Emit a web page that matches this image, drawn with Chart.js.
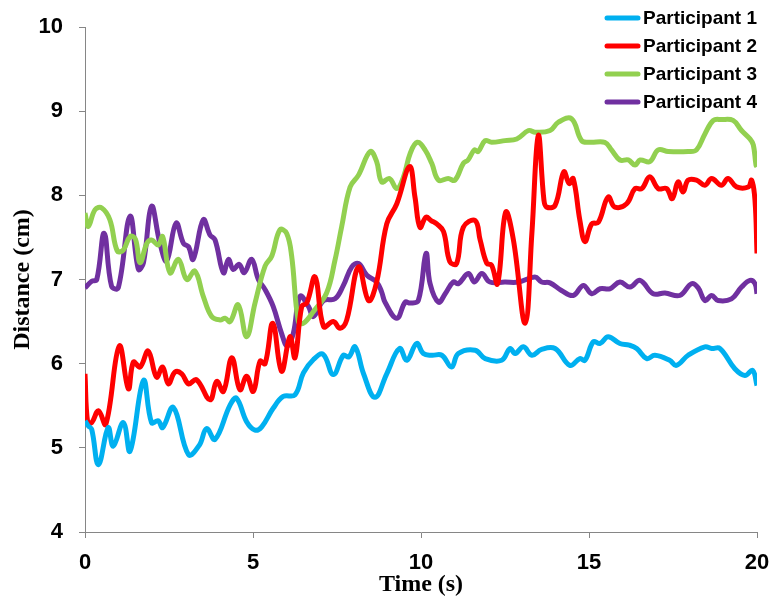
<!DOCTYPE html>
<html>
<head>
<meta charset="utf-8">
<title>Distance over time</title>
<script src="https://cdn.jsdelivr.net/npm/chart.js@4.4.1/dist/chart.umd.min.js"></script>
<style>
    body { margin: 0; background: #fff; }
    #wrap { width: 771px; height: 601px; }
</style>
</head>
<body>
<div id="wrap"><canvas id="distanceChart" width="771" height="601"></canvas></div>
<script>
// values (time in s, distance in cm)
const p1Time = [0, 0.1, 0.2, 0.4, 0.69, 0.84, 1.14, 1.34, 1.74, 1.98, 2.18, 2.31, 2.63, 3.08, 3.4, 3.62, 3.87, 4.32, 4.51, 4.81, 5.06, 5.26, 5.6, 5.9, 6.25, 6.5, 6.8, 7.09, 7.39, 7.69, 7.85, 8.04, 8.29, 8.63, 8.98, 9.36, 9.58, 9.87, 10.07, 10.32, 10.62, 10.91, 11.11, 11.61, 11.91, 12.4, 12.65, 12.8, 13.05, 13.3, 13.59, 13.99, 14.43, 14.73, 14.88, 15.13, 15.33, 15.57, 15.92, 16.2, 16.42, 16.72, 16.96, 17.4, 17.6, 17.95, 18.45, 18.65, 18.9, 19.34, 19.64, 19.87, 20];
const p1Dist = [5.32, 5.26, 5.22, 4.80, 5.24, 5.02, 5.30, 4.96, 5.80, 5.30, 5.32, 5.24, 5.48, 4.92, 5.03, 5.23, 5.10, 5.51, 5.59, 5.31, 5.21, 5.25, 5.47, 5.61, 5.63, 5.89, 6.05, 6.11, 5.87, 6.10, 6.08, 6.20, 5.88, 5.60, 5.88, 6.18, 6.04, 6.24, 6.12, 6.10, 6.10, 5.96, 6.12, 6.16, 6.06, 6.04, 6.18, 6.12, 6.20, 6.10, 6.17, 6.18, 5.98, 6.06, 6.04, 6.26, 6.24, 6.32, 6.24, 6.22, 6.18, 6.06, 6.10, 6.04, 5.98, 6.10, 6.20, 6.18, 6.18, 5.94, 5.86, 5.92, 5.74];

const p2Time = [0, 0.08, 0.2, 0.4, 0.62, 1.02, 1.29, 1.44, 1.64, 1.88, 2.13, 2.31, 2.48, 2.68, 2.88, 3.08, 3.32, 3.72, 3.92, 4.12, 4.37, 4.61, 4.81, 5.01, 5.21, 5.36, 5.59, 5.85, 6.1, 6.25, 6.45, 6.6, 6.85, 7.1, 7.39, 7.59, 7.79, 8.14, 8.44, 8.68, 8.98, 9.28, 9.66, 9.82, 9.97, 10.15, 10.3, 10.47, 10.67, 10.86, 11.06, 11.26, 11.61, 11.76, 11.96, 12.1, 12.28, 12.52, 12.75, 13.1, 13.3, 13.49, 13.66, 13.74, 13.99, 14.25, 14.41, 14.53, 14.73, 14.88, 15.08, 15.28, 15.57, 15.77, 16.12, 16.37, 16.57, 16.81, 17.06, 17.31, 17.48, 17.65, 17.8, 17.95, 18.2, 18.45, 18.65, 18.94, 19.14, 19.39, 19.74, 19.84, 19.94, 20];
const p2Dist = [5.88, 5.30, 5.30, 5.44, 5.28, 6.21, 5.70, 6.02, 5.96, 6.15, 5.84, 5.96, 5.76, 5.90, 5.88, 5.76, 5.81, 5.57, 5.79, 5.67, 6.07, 5.69, 5.85, 5.67, 6.03, 6.00, 6.48, 5.91, 6.32, 6.07, 6.68, 6.72, 7.03, 6.44, 6.50, 6.42, 6.52, 7.15, 6.75, 6.97, 7.66, 7.90, 8.34, 7.98, 7.62, 7.74, 7.70, 7.66, 7.57, 7.21, 7.19, 7.62, 7.70, 7.47, 7.19, 7.17, 6.95, 7.80, 7.47, 6.48, 7.55, 8.71, 7.94, 7.86, 7.88, 8.28, 8.14, 8.20, 7.70, 7.45, 7.66, 7.68, 7.98, 7.86, 7.90, 8.08, 8.08, 8.22, 8.08, 8.08, 7.96, 8.16, 8.04, 8.18, 8.18, 8.12, 8.20, 8.12, 8.20, 8.10, 8.10, 8.18, 7.94, 7.31];

const p3Time = [0, 0.1, 0.3, 0.5, 0.74, 0.96, 1.14, 1.34, 1.5, 1.64, 1.84, 1.98, 2.18, 2.31, 2.53, 2.78, 3.03, 3.27, 3.52, 3.77, 4.02, 4.17, 4.32, 4.56, 4.81, 5.06, 5.36, 5.56, 5.8, 6.0, 6.15, 6.35, 6.5, 6.8, 7.19, 7.44, 7.64, 7.89, 8.14, 8.49, 8.68, 8.83, 9.06, 9.28, 9.48, 9.68, 9.89, 10.12, 10.32, 10.52, 10.81, 11.01, 11.26, 11.4, 11.59, 11.7, 11.91, 12.1, 12.5, 12.85, 13.2, 13.4, 13.84, 14.09, 14.48, 14.78, 15.03, 15.47, 15.67, 15.92, 16.17, 16.37, 16.52, 16.81, 17.06, 17.36, 17.95, 18.2, 18.45, 18.7, 18.94, 19.29, 19.54, 19.79, 19.89, 19.97, 20];
const p3Dist = [7.79, 7.63, 7.83, 7.85, 7.71, 7.34, 7.35, 7.51, 7.48, 7.20, 7.43, 7.47, 7.41, 7.51, 7.08, 7.24, 7.00, 7.10, 6.80, 6.56, 6.52, 6.54, 6.50, 6.70, 6.32, 6.72, 7.16, 7.28, 7.59, 7.55, 7.28, 6.50, 6.48, 6.62, 6.84, 7.23, 7.63, 8.10, 8.24, 8.52, 8.40, 8.16, 8.20, 8.08, 8.22, 8.50, 8.63, 8.54, 8.38, 8.18, 8.20, 8.18, 8.38, 8.42, 8.54, 8.52, 8.65, 8.63, 8.65, 8.67, 8.77, 8.75, 8.77, 8.87, 8.91, 8.65, 8.63, 8.63, 8.54, 8.42, 8.42, 8.36, 8.42, 8.40, 8.54, 8.52, 8.52, 8.54, 8.73, 8.89, 8.90, 8.89, 8.77, 8.67, 8.60, 8.36, 8.34];

const p4Time = [0, 0.2, 0.35, 0.57, 0.79, 0.99, 1.34, 1.59, 1.74, 1.98, 2.23, 2.43, 2.71, 2.93, 3.08, 3.22, 3.52, 3.72, 3.87, 4.12, 4.27, 4.41, 4.59, 4.74, 4.96, 5.16, 5.36, 5.6, 5.85, 6.02, 6.2, 6.4, 6.65, 6.8, 7.1, 7.44, 7.69, 7.94, 8.14, 8.39, 8.68, 8.83, 8.93, 9.28, 9.53, 9.68, 9.92, 10.15, 10.27, 10.52, 10.72, 10.96, 11.11, 11.41, 11.59, 11.81, 12.05, 12.5, 12.9, 13.39, 13.59, 13.84, 14.18, 14.53, 14.83, 15.08, 15.33, 15.62, 15.92, 16.22, 16.52, 16.91, 17.26, 17.7, 18.05, 18.25, 18.45, 18.65, 18.84, 19.24, 19.54, 19.79, 19.94, 20];
const p4Dist = [6.90, 6.98, 7.00, 7.55, 6.92, 6.90, 7.75, 7.12, 7.20, 7.87, 7.43, 7.22, 7.67, 7.43, 7.39, 7.24, 7.71, 7.53, 7.47, 7.08, 7.24, 7.12, 7.18, 7.08, 7.24, 7.00, 6.88, 6.68, 6.36, 6.21, 6.36, 6.80, 6.68, 6.56, 6.75, 6.77, 6.93, 7.15, 7.19, 7.05, 6.97, 6.85, 6.73, 6.54, 6.73, 6.72, 6.75, 7.31, 6.95, 6.73, 6.83, 6.97, 6.95, 7.07, 6.97, 7.07, 6.97, 6.97, 6.97, 7.03, 6.97, 6.96, 6.87, 6.81, 6.93, 6.83, 6.89, 6.89, 6.97, 6.91, 6.99, 6.83, 6.84, 6.81, 6.95, 6.90, 6.75, 6.81, 6.75, 6.77, 6.91, 6.99, 6.95, 6.83];

const seriesLabels = ['Participant 1', 'Participant 2', 'Participant 3', 'Participant 4'];
const seriesColors = ['#00B0F0', '#FF0000', '#92D050', '#7030A0'];
const xTicks = [0, 5, 10, 15, 20];
const yTicks = [4, 5, 6, 7, 8, 9, 10];

const axisColor = '#868686';

function toPoints(times, values) {
    return times.map((t, i) => ({ x: t, y: values[i] }));
}

const allSeries = [
    toPoints(p1Time, p1Dist),
    toPoints(p2Time, p2Dist),
    toPoints(p3Time, p3Dist),
    toPoints(p4Time, p4Dist)
];

// legend is drawn inside the plot, stacked at the top right
const stackedLegend = {
    id: 'stackedLegend',
    afterDraw(chart) {
        const ctx = chart.ctx;
        ctx.save();
        ctx.font = 'bold 19px "Liberation Sans", Arial, sans-serif';
        ctx.textBaseline = 'middle';
        chart.data.datasets.forEach((ds, i) => {
            const y = 18 + i * 28;
            ctx.strokeStyle = ds.borderColor;
            ctx.lineWidth = 5;
            ctx.lineCap = 'round';
            ctx.beginPath();
            ctx.moveTo(607, y);
            ctx.lineTo(638, y);
            ctx.stroke();
            ctx.fillStyle = '#000';
            ctx.fillText(ds.label, 643, y + 1);
        });
        ctx.restore();
    }
};

const ctx = document.getElementById('distanceChart').getContext('2d');
new Chart(ctx, {
    type: 'line',
    data: {
        datasets: allSeries.map((points, i) => ({
            label: seriesLabels[i],
            data: points,
            borderColor: seriesColors[i],
            backgroundColor: seriesColors[i],
            borderWidth: 5,
            pointRadius: 0,
            tension: 0.4,
            fill: false
        }))
    },
    options: {
        responsive: false,
        animation: false,
        devicePixelRatio: 1,
        layout: { padding: { left: 0, right: 14, top: 27, bottom: 0 } },
        plugins: {
            legend: { display: false },
            tooltip: { enabled: false }
        },
        scales: {
            x: {
                type: 'linear',
                min: 0,
                max: 20,
                afterBuildTicks: scale => { scale.ticks = xTicks.map(v => ({ value: v })); },
                afterFit: scale => {
                    scale.height = 69;
                    scale.paddingLeft = 0;
                    scale.paddingRight = 0;
                },
                grid: { drawOnChartArea: false, drawTicks: true, tickLength: 6, color: axisColor },
                border: { display: true, color: axisColor, width: 1 },
                ticks: {
                    color: '#000',
                    padding: 12,
                    maxRotation: 0,
                    font: { family: '"Liberation Sans", Arial, sans-serif', size: 22, weight: 'bold' }
                },
                title: {
                    display: true,
                    text: 'Time (s)',
                    color: '#000',
                    padding: { top: 2, bottom: 2 },
                    font: { family: '"Liberation Serif", "Times New Roman", serif', size: 24, weight: 'bold' }
                }
            },
            y: {
                min: 4,
                max: 10,
                afterBuildTicks: scale => { scale.ticks = yTicks.map(v => ({ value: v })); },
                afterFit: scale => {
                    scale.width = 85;
                    scale.paddingTop = 0;
                    scale.paddingBottom = 0;
                },
                grid: { drawOnChartArea: false, drawTicks: true, tickLength: 6, color: axisColor },
                border: { display: true, color: axisColor, width: 1 },
                ticks: {
                    color: '#000',
                    padding: 16,
                    font: { family: '"Liberation Sans", Arial, sans-serif', size: 22, weight: 'bold' }
                },
                title: {
                    display: true,
                    text: 'Distance (cm)',
                    color: '#000',
                    padding: { top: 8, bottom: 8 },
                    font: { family: '"Liberation Serif", "Times New Roman", serif', size: 24, weight: 'bold' }
                }
            }
        }
    },
    plugins: [stackedLegend]
});
</script>
</body>
</html>
